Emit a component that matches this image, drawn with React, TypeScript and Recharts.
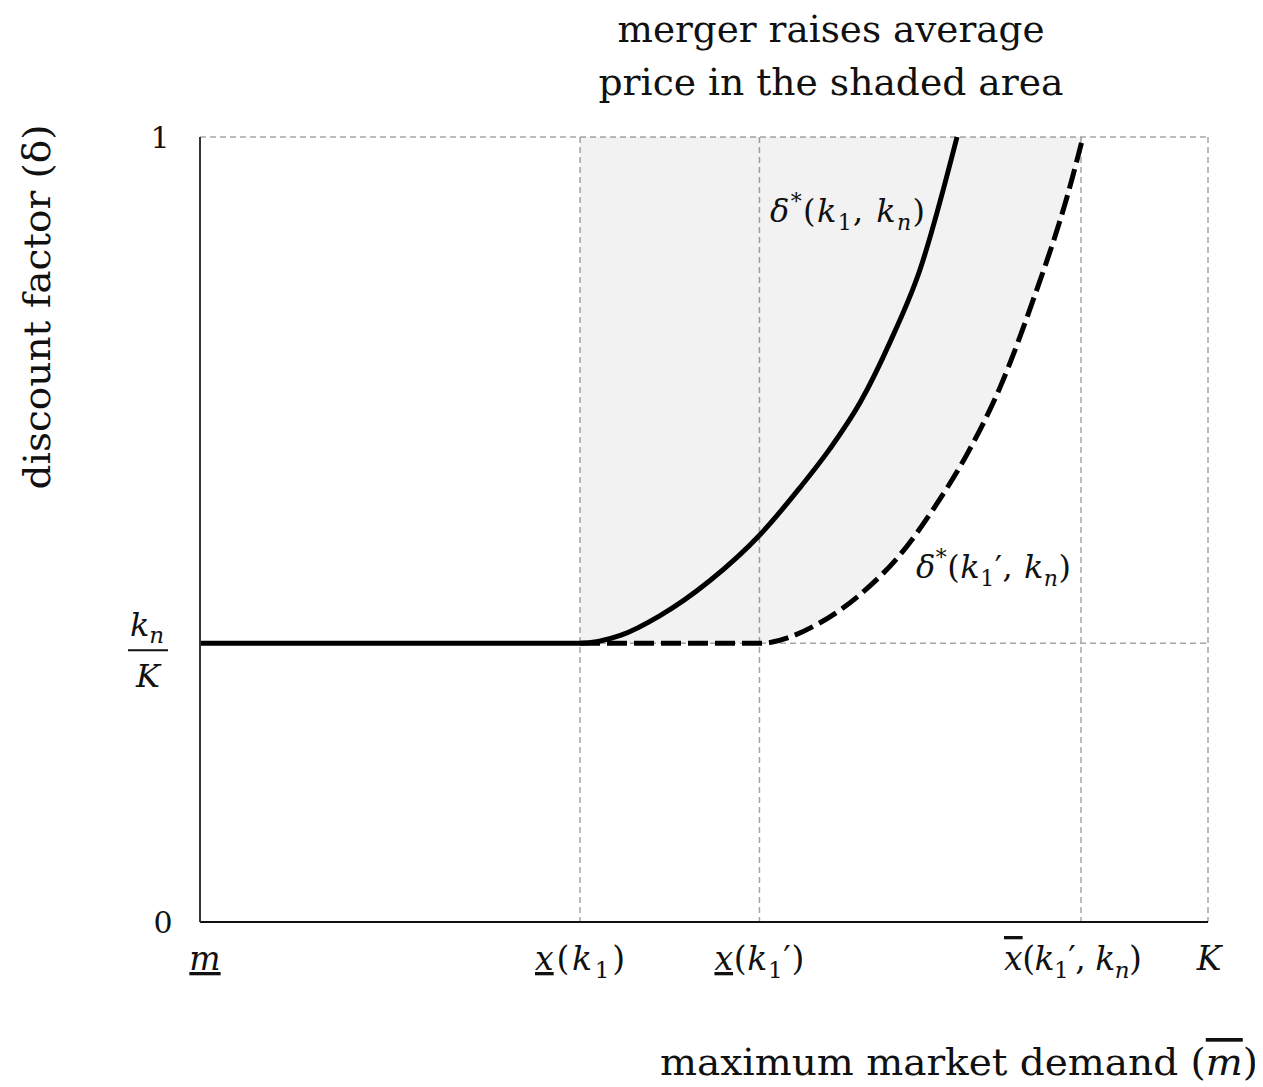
import { ComposedChart, Line, Area, XAxis, YAxis, CartesianGrid } from 'recharts'

// x axis in units where m = 0 and K = 100
const tickX = [0, 37.7, 55.5, 87.4, 100]
const tickY = [0, 0.355, 1]

const solidX = [0, 37.7, 41.7, 45.6, 50.6, 55.6, 59.5, 62.5, 65.5, 68.5, 71.4, 75.1]
const solidY = [0.355, 0.355, 0.365, 0.39, 0.435, 0.494, 0.553, 0.603, 0.662, 0.74, 0.83, 1.0]

const dashedX = [37.7, 55.5, 61.2, 66.1, 69.4, 72.8, 76.1, 79.4, 82.7, 86.0, 87.6]
const dashedY = [0.355, 0.355, 0.379, 0.424, 0.467, 0.527, 0.596, 0.682, 0.794, 0.923, 1.0]

const titleLines = ['merger raises average', 'price in the shaded area']
const xTitle = 'maximum market demand'
const yTitle = 'discount factor'

const solidData = solidX.map((x, i) => ({ x, y: solidY[i] }))
const dashedData = dashedX.map((x, i) => ({ x, y: dashedY[i] }))
const shadeData = dashedX.map((x, i) => ({ x, range: [dashedY[i], 1] }))

const FONT = '"DejaVu Serif", serif'

function XTick(props: any) {
  const { x, y, payload } = props
  const v = payload.value
  const base = y + 40
  const common = {
    y: base,
    fontFamily: FONT,
    fontSize: 33,
    fill: '#111',
    textAnchor: 'middle' as const,
    lengthAdjust: 'spacing' as const,
  }
  if (v === 0) {
    return (
      <text {...common} x={x + 5} fontStyle="italic" textDecoration="underline">m</text>
    )
  }
  if (v === 100) {
    return <text {...common} x={x + 1} fontStyle="italic">K</text>
  }
  if (v === tickX[1]) {
    return (
      <text {...common} x={x} textLength={90}>
        <tspan fontStyle="italic" textDecoration="underline">x</tspan>
        <tspan>(</tspan>
        <tspan fontStyle="italic">k</tspan>
        <tspan dy={8} fontSize={23}>1</tspan>
        <tspan dy={-8}>)</tspan>
      </text>
    )
  }
  if (v === tickX[2]) {
    return (
      <text {...common} x={x} textLength={90}>
        <tspan fontStyle="italic" textDecoration="underline">x</tspan>
        <tspan>(</tspan>
        <tspan fontStyle="italic">k</tspan>
        <tspan dy={8} fontSize={23}>1</tspan>
        <tspan dy={-8}>′)</tspan>
      </text>
    )
  }
  return (
    <text {...common} x={x - 8} textLength={138}>
      <tspan fontStyle="italic" textDecoration="overline">x</tspan>
      <tspan>(</tspan>
      <tspan fontStyle="italic">k</tspan>
      <tspan dy={8} fontSize={23}>1</tspan>
      <tspan dy={-8}>′, </tspan>
      <tspan fontStyle="italic">k</tspan>
      <tspan dy={8} fontSize={23} fontStyle="italic">n</tspan>
      <tspan dy={-8}>)</tspan>
    </text>
  )
}

function YTick(props: any) {
  const { y, payload } = props
  const v = payload.value
  if (v === 0 || v === 1) {
    return (
      <text x={v === 0 ? 163 - 8 : 160 - 8} y={y + 11} fontFamily={FONT} fontSize={30} fill="#111" textAnchor="middle">
        {v}
      </text>
    )
  }
  return (
    <g>
      <text x={147 - 8} y={y - 7} fontFamily={FONT} fontSize={32} fill="#111" textAnchor="middle">
        <tspan fontStyle="italic">k</tspan>
        <tspan dy={7} fontSize={23} fontStyle="italic">n</tspan>
      </text>
      <line x1={128 - 8} x2={168 - 8} y1={y + 7} y2={y + 7} stroke="#111" strokeWidth={2} />
      <text x={148 - 8} y={y + 44} fontFamily={FONT} fontSize={32} fill="#111" fontStyle="italic" textAnchor="middle">
        K
      </text>
    </g>
  )
}

function DeltaLabel({ x, y, prime }: { x: number; y: number; prime: boolean }) {
  return (
    <text x={x} y={y} fontFamily={FONT} fontSize={32} fill="#111" textLength={155} lengthAdjust="spacing">
      <tspan fontStyle="italic">δ</tspan>
      <tspan dy={-13} fontSize={22}>*</tspan>
      <tspan dy={13}>(</tspan>
      <tspan fontStyle="italic">k</tspan>
      <tspan dy={8} fontSize={22}>1</tspan>
      <tspan dy={-8}>{prime ? '′, ' : ', '}</tspan>
      <tspan fontStyle="italic">k</tspan>
      <tspan dy={8} fontSize={22} fontStyle="italic">n</tspan>
      <tspan dy={-8}>)</tspan>
    </text>
  )
}

export default function App() {
  return (
    <ComposedChart
      width={1255}
      height={1079}
      margin={{ top: 129, right: 55, bottom: 105, left: 100 }}
    >
      <CartesianGrid stroke="#a6a6a6" strokeDasharray="6 4" strokeWidth={1.5} />
      <XAxis
        type="number"
        dataKey="x"
        domain={[0, 100]}
        ticks={tickX}
        tick={<XTick />}
        tickLine={false}
        axisLine={{ stroke: '#111', strokeWidth: 2 }}
        height={60}
        interval={0}
        allowDataOverflow
      />
      <YAxis
        type="number"
        domain={[0, 1]}
        ticks={tickY}
        tick={<YTick />}
        tickLine={false}
        axisLine={{ stroke: '#333', strokeWidth: 2 }}
        width={92}
        interval={0}
      />
      <Area
        data={shadeData}
        dataKey="range"
        type="monotone"
        stroke="none"
        fill="#000"
        fillOpacity={0.05}
        isAnimationActive={false}
        activeDot={false}
      />
      <Line
        data={solidData}
        dataKey="y"
        type="monotone"
        stroke="#000"
        strokeWidth={5}
        dot={false}
        activeDot={false}
        isAnimationActive={false}
      />
      <Line
        data={dashedData}
        dataKey="y"
        type="monotone"
        stroke="#000"
        strokeWidth={5}
        strokeDasharray="20 7"
        dot={false}
        activeDot={false}
        isAnimationActive={false}
      />
      <DeltaLabel x={762} y={214} prime={false} />
      <DeltaLabel x={908} y={570} prime={true} />
      {titleLines.map((t, i) => (
        <text
          key={t}
          x={823}
          y={34 + i * 53}
          fontFamily={FONT}
          fontSize={37}
          fill="#111"
          textAnchor="middle"
          textLength={i === 0 ? 427 : 465}
          lengthAdjust="spacingAndGlyphs"
        >
          {t}
        </text>
      ))}
      <text
        x={0}
        y={0}
        transform="translate(42 299) rotate(-90)"
        fontFamily={FONT}
        fontSize={38}
        fill="#111"
        textAnchor="middle"
        textLength={365}
        lengthAdjust="spacingAndGlyphs"
      >
        {yTitle} (<tspan>δ</tspan>)
      </text>
      <text
        x={1250}
        y={1067}
        fontFamily={FONT}
        fontSize={37}
        fill="#111"
        textAnchor="end"
        textLength={598}
        lengthAdjust="spacingAndGlyphs"
      >
        {xTitle} (<tspan fontStyle="italic" textDecoration="overline">m</tspan>)
      </text>
    </ComposedChart>
  )
}
